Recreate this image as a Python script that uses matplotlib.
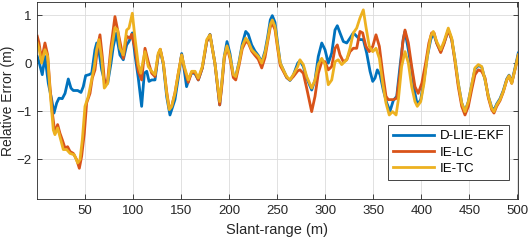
import matplotlib
matplotlib.use("Agg")
from matplotlib import pyplot as plt

FIGSIZE = (528, 242)
DPI = 100

plt.rcParams["font.family"] = ["Liberation Sans", "DejaVu Sans"]

AX_COLOR = "#262626"
COLORS = ["#0072BD", "#D95319", "#EDB120"]
LABELS = ["D-LIE-EKF", "IE-LC", "IE-TC"]

# D-LIE-EKF
ekf_x = [0, 1.8, 5.2, 8.0, 11.5, 15, 17.4, 20.2, 22.6, 26, 28.9, 32.3, 35.1, 37.5, 42.1, 45.5, 47.9,
         50.4, 53.9, 56.7, 60.1, 61.9, 64.3, 67.1, 69.8, 73.3, 76.8, 79.2, 82.2, 86.1, 89.6, 93.1, 95.5,
         99, 101.8, 105.2, 108.7, 111.5, 114, 116.4, 119.2, 122.6, 126, 128.1, 131.3, 134.8, 138.2,
         143.4, 146.9, 150.4, 153.1, 155.5, 158.5, 160.8, 164.3, 167.7, 171.9, 176.5, 179.9, 185, 190,
         192.1, 194.8, 197.6, 200.7, 204.2, 206.7, 210.1, 213.5, 217.1, 219.8, 223.3, 226.8, 230.2,
         233.8, 237.2, 240, 242.7, 244.8, 247.6, 250.4, 253.1, 256.3, 259.8, 263.2, 266.7, 271.3, 273.6,
         277.1, 280.6, 285.8, 289.3, 292.7, 296.3, 299.7, 303.1, 306.7, 310.1, 312.5, 315.3, 318.8,
         322.3, 325.7, 329.2, 332.7, 336.1, 339.6, 343.1, 346.6, 349.4, 351.8, 354.2, 357, 360.4, 364,
         367.4, 370.8, 374.4, 377.8, 381.3, 383, 386.5, 390, 393.4, 395.8, 399.4, 402.8, 406.3, 409.8,
         412.5, 416, 420.2, 423.6, 428.1, 431.7, 435.1, 438.5, 442.1, 445.5, 449, 452.5, 455.9, 459.4,
         462.9, 466.4, 469.8, 473.3, 475.7, 478.5, 482, 485.4, 489, 491.4, 494.2, 496.6, 499.4, 501]
ekf_y = [0.14, 0.03, -0.24, 0.14, -0.42, -0.76, -1.04, -0.83, -0.73, -0.74, -0.63, -0.33, -0.52, -0.57,
         -0.57, -0.61, -0.49, -0.26, -0.24, -0.21, 0.28, 0.42, 0.24, -0.14, -0.35, -0.42, 0, 0.35, 0.62,
         0.17, 0.07, 0.38, 0.45, 0.63, 0.17, -0.31, -0.9, -0.21, -0.17, -0.38, -0.35, -0.35, 0.17, 0.27,
         -0.03, -0.7, -1.08, -0.76, -0.3, 0.2, -0.15, -0.49, -0.3, -0.2, -0.22, -0.35, -0.1, 0.45, 0.6,
         0.0, -0.87, -0.45, 0.14, 0.45, 0.2, -0.26, -0.28, 0.02, 0.4, 0.66, 0.6, 0.38, 0.25, 0.16, 0.02,
         0.25, 0.55, 0.9, 0.99, 0.85, 0.4, 0, -0.14, -0.3, -0.36, -0.25, 0.0, 0.05, -0.07, -0.31, -0.56,
         -0.35, 0.14, 0.42, 0.28, 0, 0.21, 0.69, 0.78, 0.63, 0.45, 0.42, 0.52, 0.63, 0.56, 0.49, 0.49,
         0.21, -0.17, -0.38, -0.31, -0.14, -0.24, -0.56, -0.83, -1.0, -0.78, -0.69, -0.07, 0.52, 0.66,
         0.28, -0.14, -0.63, -0.87, -0.76, -0.35, 0.14, 0.49, 0.63, 0.42, 0.24, 0.42, 0.69, 0.49, 0.07,
         -0.42, -0.83, -1.01, -0.8, -0.45, -0.12, -0.05, -0.08, -0.35, -0.69, -0.92, -0.98, -0.85, -0.74,
         -0.57, -0.33, -0.25, -0.4, -0.19, 0.06, 0.21]

# IE-LC
lc_x = [0, 1.8, 4.5, 8.0, 10.8, 13.2, 15.7, 18.4, 21.2, 23.6, 26.1, 28.9, 31.6, 34.1, 37.5, 41.0, 43.8,
        46.2, 49.0, 51.4, 54.9, 57.3, 60.1, 62.9, 65.3, 67.7, 70.5, 73.3, 76.8, 80.9, 86.1, 89.6, 93.1,
        96.6, 98.3, 101.8, 105.2, 108.7, 112.2, 115.6, 119.2, 122.6, 126, 128.1, 131.3, 134.8, 137.5,
        140, 143.4, 146.9, 150.4, 153.1, 157.3, 160.8, 164.3, 167.7, 171.9, 176.5, 179.9, 185, 190,
        192.1, 194.8, 197.6, 200.7, 204.2, 206.7, 210.1, 213.5, 217.1, 219.8, 223.3, 226.8, 230.2,
        233.8, 237.2, 240, 242.7, 244.8, 247.6, 250.4, 253.1, 256.3, 259.8, 263.2, 266.7, 271.3, 273.6,
        277.1, 280.6, 285.8, 289.3, 292.7, 296.3, 299.7, 303.1, 306.7, 310.1, 312.5, 315.3, 318.8,
        322.3, 325.7, 329.2, 332.7, 336.1, 338.9, 342.3, 345.8, 349.4, 352.8, 356.3, 359.8, 363.2,
        365.6, 370.8, 374.4, 377.8, 380.6, 383, 386.5, 390, 393.4, 396.8, 400.5, 404.5, 407.9, 410.8,
        413.3, 416, 420.2, 423.6, 428.1, 431.7, 435.1, 438.5, 442.1, 445.5, 449, 452.5, 455.9, 459.4,
        462.9, 466.4, 469.8, 473.3, 475.7, 478.5, 482, 485.4, 489, 491.4, 494.2, 496.6, 499.4, 501]
lc_y = [0.56, 0.42, 0.07, 0.42, 0.17, -0.49, -1.04, -1.46, -1.28, -1.46, -1.6, -1.77, -1.74, -1.84,
        -1.88, -2.01, -2.19, -1.94, -1.46, -0.83, -0.63, -0.31, -0.14, 0.35, 0.59, 0.14, -0.49, -0.35,
        0.35, 0.97, 0.45, 0.1, 0.56, 0.52, 0.6, 0.31, -0.17, -0.35, 0.31, 0.03, -0.21, -0.28, 0.17, 0.29,
        0, -0.6, -0.95, -0.9, -0.62, -0.21, 0.17, -0.1, -0.4, -0.19, -0.2, -0.35, -0.1, 0.45, 0.59, 0.0,
        -0.87, -0.5, 0.1, 0.33, 0.1, -0.3, -0.35, -0.05, 0.3, 0.45, 0.42, 0.25, 0.16, 0.08, -0.1, 0.12,
        0.45, 0.75, 0.83, 0.7, 0.3, -0.05, -0.17, -0.3, -0.35, -0.28, -0.16, -0.14, -0.21, -0.52, -1.01,
        -0.69, -0.21, 0.03, 0.03, -0.14, -0.07, 0.31, 0.38, 0.17, 0.03, 0.07, 0.24, 0.31, 0.31, 0.66,
        0.63, 0.35, 0.24, 0.35, 0.59, 0.35, -0.21, -0.69, -0.76, -0.76, -0.73, -0.21, 0.42, 0.69, 0.42,
        -0.07, -0.49, -0.63, -0.42, 0, 0.42, 0.63, 0.63, 0.42, 0.22, 0.4, 0.69, 0.49, 0.03, -0.49, -0.9,
        -1.08, -0.9, -0.55, -0.24, -0.14, -0.17, -0.31, -0.72, -0.97, -1.04, -0.9, -0.78, -0.6, -0.35,
        -0.27, -0.42, -0.22, 0.02, 0.17]

# IE-TC
tc_x = [0, 1.8, 4.5, 8.0, 10.8, 13.2, 16.7, 18.4, 21.2, 23.6, 27.1, 30.6, 34.1, 38.6, 42.1, 44.5, 46.9,
        49.7, 53.2, 56.6, 59.4, 61.8, 64.3, 67.1, 69.8, 73.3, 76.8, 80.9, 83.7, 86.1, 89.6, 93.1, 95.5,
        99, 101.8, 105.2, 107.8, 110.4, 112.2, 115.6, 119.2, 122.6, 126, 128.1, 131.3, 134.8, 137.5,
        140, 143.4, 146.9, 150.4, 153.1, 157.3, 160.8, 164.3, 167.7, 171.9, 176.5, 179.9, 185, 190,
        192.1, 194.8, 197.6, 200.7, 204.2, 206.7, 210.1, 213.5, 217.1, 219.8, 223.3, 226.8, 230.2,
        233.8, 237.2, 240, 242.7, 244.8, 247.6, 250.4, 253.1, 256.3, 259.8, 263.2, 266.7, 271.3, 273.6,
        277.1, 280.6, 285.8, 289.3, 292.7, 296.3, 299.7, 303.1, 306.7, 310.1, 313.5, 317.1, 322.3,
        325.7, 329.2, 332.7, 336.1, 339.6, 342.3, 345.8, 349.4, 352.8, 356.3, 359.8, 363.2, 366.6,
        370.1, 373.7, 376.1, 379.5, 383, 386.5, 390, 393.4, 395.8, 399.4, 402.8, 406.3, 409.8, 412.5,
        416, 420.2, 423.6, 428.1, 431.7, 435.1, 438.5, 442.1, 445.5, 449, 452.5, 455.9, 459.4, 462.9,
        466.4, 469.8, 473.3, 475.7, 478.5, 482, 485.4, 489, 491.4, 494.2, 496.6, 499.4, 501]
tc_y = [0.42, 0.31, 0, 0.28, 0.14, -0.56, -1.39, -1.49, -1.35, -1.53, -1.8, -1.8, -1.88, -1.91, -2.08,
        -2.01, -1.6, -0.9, -0.69, -0.35, -0.07, 0.28, 0.49, 0.1, -0.52, -0.42, 0.21, 0.74, 0.69, 0.31,
        0.17, 0.69, 0.73, 1.04, 0.52, -0.03, -0.21, 0.07, 0.24, -0.07, -0.17, -0.24, 0.21, 0.29, 0,
        -0.63, -0.97, -0.9, -0.63, -0.21, 0.17, -0.07, -0.35, -0.17, -0.17, -0.31, -0.07, 0.49, 0.59,
        0.0, -0.8, -0.42, 0.14, 0.36, 0.14, -0.24, -0.28, 0, 0.35, 0.52, 0.45, 0.28, 0.21, 0.14, 0,
        0.21, 0.49, 0.8, 0.9, 0.76, 0.35, 0, -0.14, -0.28, -0.35, -0.24, -0.07, 0.07, -0.03, -0.28,
        -0.52, -0.35, -0.03, 0.1, -0.03, -0.45, -0.35, 0.03, 0.07, -0.03, 0.07, 0.31, 0.63, 0.73, 0.94,
        1.11, 0.76, 0.35, 0.24, 0.31, 0.1, -0.42, -0.83, -1.08, -1.01, -1.08, -0.76, -0.07, 0.24, 0,
        -0.49, -0.8, -0.9, -0.8, -0.42, 0.14, 0.56, 0.66, 0.45, 0.28, 0.45, 0.73, 0.52, 0.07, -0.42,
        -0.83, -1.01, -0.8, -0.45, -0.1, -0.03, -0.07, -0.35, -0.69, -0.94, -1.01, -0.87, -0.76, -0.59,
        -0.35, -0.26, -0.42, -0.21, 0.03, 0.17]

x_ticks = [50, 100, 150, 200, 250, 300, 350, 400, 450, 500]
y_ticks = [-2, -1, 0, 1]


fig = plt.figure(figsize=(FIGSIZE[0]/DPI, FIGSIZE[1]/DPI), dpi=DPI)
ax = fig.add_axes([0.0706, 0.1777, 0.9099, 0.8153])

for xs, ys, color, label in zip([ekf_x, lc_x, tc_x], [ekf_y, lc_y, tc_y], COLORS, LABELS):
    ax.plot(xs, ys, color=color, lw=2.0, label=label, solid_joinstyle="round")

ax.set_xlim(0, 500.4)
ax.set_ylim(-2.83, 1.28)
ax.set_xticks(x_ticks)
ax.set_yticks(y_ticks)
ax.grid(True, color="#dcdcdc", lw=0.6)
ax.set_axisbelow(True)

ax.tick_params(direction="in", top=True, right=True, length=3.5, width=0.6,
               colors=AX_COLOR, labelsize=9.5, pad=4)
for sp in ax.spines.values():
    sp.set_color(AX_COLOR)
    sp.set_linewidth(0.6)

ax.set_xlabel("Slant-range (m)", fontsize=10.5, color=AX_COLOR, labelpad=5)
ax.set_ylabel("Relative Error (m)", fontsize=10, color=AX_COLOR)
ax.yaxis.set_label_coords(-0.047, 0.5)

leg = ax.legend(loc="lower right", bbox_to_anchor=(0.9825, 0.0963), fontsize=9.5,
                handlelength=3.1, labelspacing=0.3, borderpad=0.4, handletextpad=0.4,
                fancybox=False, framealpha=1, edgecolor=AX_COLOR, borderaxespad=0)
leg.get_frame().set_linewidth(0.6)

plt.savefig("out.png", dpi=DPI)
